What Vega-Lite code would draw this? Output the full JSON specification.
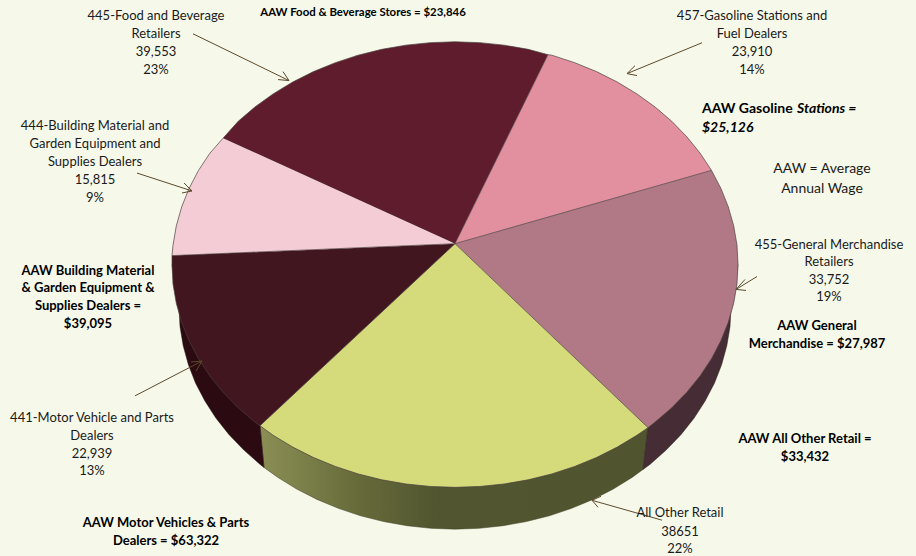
{"$schema":"https://vega.github.io/schema/vega-lite/v6.json","width":916,"height":556,"autosize":{"type":"fit","contains":"padding"},"padding":0,"background":"#f6f9ea","config":{"view":{"stroke":null},"axis":{"grid":false}},
"resolve":{"scale":{"fill":"independent"}},
"datasets":{
"wallYellow":[{"x":193,"y":-164},{"x":188,"y":-206},{"x":177.4,"y":-213.8},{"x":158.3,"y":-225.7},{"x":138,"y":-236.1},{"x":116.6,"y":-245.1},{"x":94.4,"y":-252.6},{"x":71.4,"y":-258.4},{"x":47.9,"y":-262.6},{"x":24.1,"y":-265.2},{"x":0,"y":-266},{"x":-24.1,"y":-265.2},{"x":-47.9,"y":-262.6},{"x":-71.4,"y":-258.4},{"x":-94.4,"y":-252.6},{"x":-116.6,"y":-245.1},{"x":-138,"y":-236.1},{"x":-158.3,"y":-225.7},{"x":-177.4,"y":-213.8},{"x":-191,"y":-204},{"x":-195,"y":-162}],
"walls":[
{"part":"General Merchandise","x":193,"y":-164},{"part":"General Merchandise","x":188,"y":-206},{"part":"General Merchandise","x":195.2,"y":-200.7},{"part":"General Merchandise","x":211.4,"y":-186.3},{"part":"General Merchandise","x":226.1,"y":-170.9},{"part":"General Merchandise","x":239,"y":-154.5},{"part":"General Merchandise","x":250.1,"y":-137.2},{"part":"General Merchandise","x":259.4,"y":-119.3},{"part":"General Merchandise","x":266.6,"y":-100.7},{"part":"General Merchandise","x":271.8,"y":-81.7},{"part":"General Merchandise","x":275,"y":-62.4},{"part":"General Merchandise","x":276,"y":-43},{"part":"General Merchandise","x":283,"y":0},
{"part":"Motor Vehicle","x":-195,"y":-162},{"part":"Motor Vehicle","x":-191,"y":-204},{"part":"Motor Vehicle","x":-195.2,"y":-200.7},{"part":"Motor Vehicle","x":-211.4,"y":-186.3},{"part":"Motor Vehicle","x":-226.1,"y":-170.9},{"part":"Motor Vehicle","x":-239,"y":-154.5},{"part":"Motor Vehicle","x":-250.1,"y":-137.2},{"part":"Motor Vehicle","x":-259.4,"y":-119.3},{"part":"Motor Vehicle","x":-266.6,"y":-100.7},{"part":"Motor Vehicle","x":-271.8,"y":-81.7},{"part":"Motor Vehicle","x":-275,"y":-62.4},{"part":"Motor Vehicle","x":-276,"y":-43},{"part":"Motor Vehicle","x":-283,"y":0}],
"wedges":[
{"w":"Food","x":0,"y":21},{"w":"Food","x":-232,"y":127},{"w":"Food","x":-216.8,"y":144},{"w":"Food","x":-200.1,"y":158.4},{"w":"Food","x":-181.9,"y":171.6},{"w":"Food","x":-162.3,"y":183.5},{"w":"Food","x":-141.5,"y":194},{"w":"Food","x":-119.6,"y":203},{"w":"Food","x":-96.8,"y":210.5},{"w":"Food","x":-73.2,"y":216.4},{"w":"Food","x":-49.1,"y":220.6},{"w":"Food","x":-24.7,"y":223.1},{"w":"Food","x":0,"y":224},{"w":"Food","x":24.7,"y":223.1},{"w":"Food","x":49.1,"y":220.6},{"w":"Food","x":73.2,"y":216.4},{"w":"Food","x":93,"y":211},
{"w":"Gasoline","x":0,"y":21},{"w":"Gasoline","x":93,"y":211},{"w":"Gasoline","x":96.8,"y":210.5},{"w":"Gasoline","x":119.6,"y":203},{"w":"Gasoline","x":141.5,"y":194},{"w":"Gasoline","x":162.3,"y":183.5},{"w":"Gasoline","x":181.9,"y":171.6},{"w":"Gasoline","x":200.1,"y":158.4},{"w":"Gasoline","x":216.8,"y":144},{"w":"Gasoline","x":231.8,"y":128.5},{"w":"Gasoline","x":245.1,"y":112},{"w":"Gasoline","x":256.5,"y":94.7},
{"w":"General","x":0,"y":21},{"w":"General","x":256.5,"y":94.7},{"w":"General","x":265.9,"y":76.6},{"w":"General","x":273.3,"y":58},{"w":"General","x":278.7,"y":38.9},{"w":"General","x":282,"y":19.5},{"w":"General","x":283,"y":0},{"w":"General","x":282,"y":-19.5},{"w":"General","x":278.7,"y":-38.9},{"w":"General","x":273.3,"y":-58},{"w":"General","x":265.9,"y":-76.6},{"w":"General","x":256.5,"y":-94.7},{"w":"General","x":245.1,"y":-112},{"w":"General","x":231.8,"y":-128.5},{"w":"General","x":216.8,"y":-144},{"w":"General","x":200.1,"y":-158.4},{"w":"General","x":193,"y":-164},
{"w":"Other","x":0,"y":21},{"w":"Other","x":193,"y":-164},{"w":"Other","x":181.9,"y":-171.6},{"w":"Other","x":162.3,"y":-183.5},{"w":"Other","x":141.5,"y":-194},{"w":"Other","x":119.6,"y":-203},{"w":"Other","x":96.8,"y":-210.5},{"w":"Other","x":73.2,"y":-216.4},{"w":"Other","x":49.1,"y":-220.6},{"w":"Other","x":24.7,"y":-223.1},{"w":"Other","x":0,"y":-224},{"w":"Other","x":-24.7,"y":-223.1},{"w":"Other","x":-49.1,"y":-220.6},{"w":"Other","x":-73.2,"y":-216.4},{"w":"Other","x":-96.8,"y":-210.5},{"w":"Other","x":-119.6,"y":-203},{"w":"Other","x":-141.5,"y":-194},{"w":"Other","x":-162.3,"y":-183.5},{"w":"Other","x":-181.9,"y":-171.6},{"w":"Other","x":-195,"y":-162},
{"w":"Motor","x":0,"y":21},{"w":"Motor","x":-195,"y":-162},{"w":"Motor","x":-200.1,"y":-158.4},{"w":"Motor","x":-216.8,"y":-144},{"w":"Motor","x":-231.8,"y":-128.5},{"w":"Motor","x":-245.1,"y":-112},{"w":"Motor","x":-256.5,"y":-94.7},{"w":"Motor","x":-265.9,"y":-76.6},{"w":"Motor","x":-273.3,"y":-58},{"w":"Motor","x":-278.7,"y":-38.9},{"w":"Motor","x":-282,"y":-19.5},{"w":"Motor","x":-283,"y":0},{"w":"Motor","x":-283,"y":9},
{"w":"Building","x":0,"y":21},{"w":"Building","x":-283,"y":9},{"w":"Building","x":-282,"y":19.5},{"w":"Building","x":-278.7,"y":38.9},{"w":"Building","x":-273.3,"y":58},{"w":"Building","x":-265.9,"y":76.6},{"w":"Building","x":-256.5,"y":94.7},{"w":"Building","x":-245.1,"y":112},{"w":"Building","x":-232,"y":127}],
"leaders":[
{"x":-262,"y":232,"x2":-166,"y2":185},{"x":-172,"y":194,"x2":-166,"y2":185},{"x":-177,"y":186,"x2":-166,"y2":185},
{"x":-318,"y":92,"x2":-263,"y2":74},{"x":-271,"y":82,"x2":-263,"y2":74},{"x":-273,"y":72,"x2":-263,"y2":74},
{"x":247,"y":223,"x2":172,"y2":192},{"x":180,"y":200,"x2":172,"y2":192},{"x":182,"y":190,"x2":172,"y2":192},
{"x":302,"y":-12,"x2":281,"y2":-25},{"x":290,"y":-15,"x2":281,"y2":-25},{"x":291,"y":-26,"x2":281,"y2":-25},
{"x":207,"y":-257,"x2":137,"y2":-237},{"x":146,"y":-233,"x2":137,"y2":-237},{"x":143,"y":-244,"x2":137,"y2":-237},
{"x":-320,"y":-132,"x2":-253,"y2":-97},{"x":-264,"y":-98,"x2":-253,"y2":-97},{"x":-259,"y":-107,"x2":-253,"y2":-97}],
"regular":[
{"x":-299,"y":251,"t":"445-Food and Beverage"},{"x":-299,"y":233,"t":"Retailers"},{"x":-299,"y":215,"t":"39,553"},{"x":-299,"y":197,"t":"23%"},
{"x":-360,"y":140,"t":"444-Building Material and"},{"x":-360,"y":122,"t":"Garden Equipment and"},{"x":-360,"y":104,"t":"Supplies Dealers"},{"x":-360,"y":86,"t":"15,815"},{"x":-360,"y":68,"t":"9%"},
{"x":297,"y":251,"t":"457-Gasoline Stations and"},{"x":297,"y":233,"t":"Fuel Dealers"},{"x":297,"y":215,"t":"23,910"},{"x":297,"y":197,"t":"14%"},
{"x":374,"y":21,"t":"455-General Merchandise"},{"x":374,"y":4,"t":"Retailers"},{"x":374,"y":-15,"t":"33,752"},{"x":374,"y":-32,"t":"19%"},
{"x":225,"y":-249,"t":"All Other Retail"},{"x":225,"y":-268,"t":"38651"},{"x":225,"y":-285,"t":"22%"},
{"x":-363,"y":-153,"t":"441-Motor Vehicle and Parts"},{"x":-363,"y":-171,"t":"Dealers"},{"x":-363,"y":-189,"t":"22,939"},{"x":-363,"y":-207,"t":"13%"}],
"note":[{"x":367,"y":97,"t":"AAW = Average"},{"x":367,"y":77,"t":"Annual Wage"}],
"boldSmall":[{"x":-92,"y":254,"t":"AAW Food & Beverage Stores = $23,846"}],
"bold":[
{"x":362,"y":-61,"t":"AAW General"},{"x":362,"y":-79,"t":"Merchandise = $27,987"},
{"x":350,"y":-174,"t":"AAW All Other Retail ="},{"x":350,"y":-192,"t":"$33,432"},
{"x":-289,"y":-259,"t":"AAW Motor Vehicles & Parts"},{"x":-289,"y":-277,"t":"Dealers = $63,322"},
{"x":-367,"y":-5,"t":"AAW Building Material"},{"x":-367,"y":-23,"t":"& Garden Equipment &"},{"x":-367,"y":-41,"t":"Supplies Dealers ="},{"x":-367,"y":-59,"t":"$39,095"}],
"gasB":[{"x":247,"y":157,"t":"AAW Gasoline"}],
"gasI":[{"x":342,"y":157,"t":"Stations ="},{"x":247,"y":138,"t":"$25,126"}]
},
"encoding":{"x":{"field":"x","type":"quantitative","axis":null,"scale":{"domain":[-455,461],"nice":false,"zero":false}},"y":{"field":"y","type":"quantitative","axis":null,"scale":{"domain":[-290,266],"nice":false,"zero":false}}},
"layer":[
{"data":{"name":"wallYellow"},"mark":{"type":"line","stroke":"#3a3a20","strokeWidth":0.5,"fill":{"gradient":"linear","x1":0,"y1":0,"x2":1,"y2":0,"stops":[{"offset":0,"color":"#8b8f55"},{"offset":0.25,"color":"#676b3a"},{"offset":0.45,"color":"#525630"},{"offset":1,"color":"#50542f"}]}},"encoding":{"order":{"value":null}}},
{"data":{"name":"walls"},"mark":{"type":"line","stroke":"#2a1a1a","strokeWidth":0.5},"encoding":{"order":{"value":null},"fill":{"field":"part","type":"nominal","legend":null,"scale":{"domain":["General Merchandise","Motor Vehicle"],"range":["#462d35","#2b0a12"]}}}},
{"data":{"name":"wedges"},"mark":{"type":"line","stroke":"#4a3f3f","strokeWidth":0.7,"strokeJoin":"round"},"encoding":{"order":{"value":null},"fill":{"field":"w","type":"nominal","legend":null,"scale":{"domain":["Food","Gasoline","General","Other","Motor","Building"],"range":["#5e1c2c","#e2909f","#b07985","#d5db7b","#42161f","#f4ccd5"]}}}},
{"data":{"name":"leaders"},"mark":{"type":"rule","stroke":"#5b4a2c","strokeWidth":1},"encoding":{"x2":{"field":"x2"},"y2":{"field":"y2"}}},
{"data":{"name":"regular"},"mark":{"type":"text","font":"Lato","fontSize":13,"dy":1,"fill":"#1a1a1a","align":"center","baseline":"middle"},"encoding":{"text":{"field":"t"}}},
{"data":{"name":"note"},"mark":{"type":"text","font":"Lato","fontSize":14,"dy":1,"fill":"#1a1a1a","align":"center","baseline":"middle"},"encoding":{"text":{"field":"t"}}},
{"data":{"name":"boldSmall"},"mark":{"type":"text","font":"Lato","fontSize":11.4,"dy":1,"fontWeight":"bold","fill":"#000000","align":"center","baseline":"middle"},"encoding":{"text":{"field":"t"}}},
{"data":{"name":"bold"},"mark":{"type":"text","font":"Lato","fontSize":13,"dy":1,"fontWeight":"bold","fill":"#000000","align":"center","baseline":"middle"},"encoding":{"text":{"field":"t"}}},
{"data":{"name":"gasB"},"mark":{"type":"text","font":"Lato","fontSize":14,"dy":1,"fontWeight":"bold","fill":"#000000","align":"left","baseline":"middle"},"encoding":{"text":{"field":"t"}}},
{"data":{"name":"gasI"},"mark":{"type":"text","font":"Lato","fontSize":14,"dy":1,"fontWeight":"bold","fontStyle":"italic","fill":"#000000","align":"left","baseline":"middle"},"encoding":{"text":{"field":"t"}}}
]}
